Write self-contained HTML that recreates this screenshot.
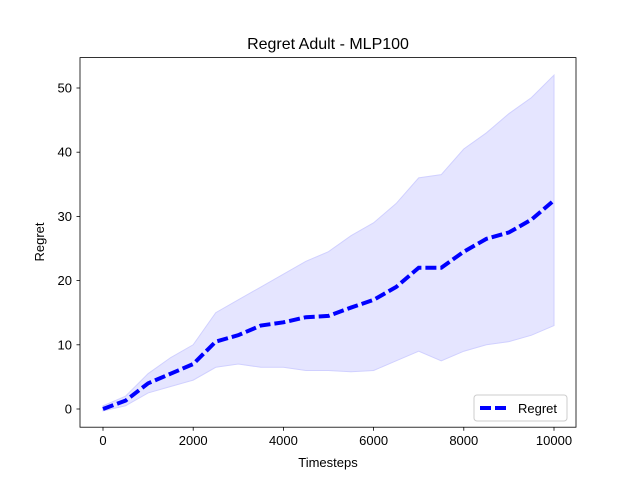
<!DOCTYPE html>
<html><head><meta charset="utf-8"><style>
body{margin:0;background:#fff}
svg text{font-family:"Liberation Sans","DejaVu Sans",sans-serif;fill:#000}
</style></head><body>
<svg id="c" width="640" height="480" xmlns="http://www.w3.org/2000/svg">
<rect width="640" height="480" fill="#fff"/>
<g id="plot"></g>
<rect x="80" y="57.6" width="496" height="369.6" fill="none" stroke="#000" stroke-width="0.8"/>
<g id="axes"></g>
<text x="328" y="49" font-size="16" text-anchor="middle">Regret Adult - MLP100</text>
<text x="328" y="467" font-size="13" text-anchor="middle">Timesteps</text>
<text x="0" y="0" font-size="13" text-anchor="middle" transform="translate(44,242) rotate(-90)">Regret</text>
<g>
<rect x="474" y="395" width="93" height="26" rx="3" fill="#fff" fill-opacity="0.8" stroke="#ccc" stroke-width="1"/>
<line x1="480" y1="408" x2="508" y2="408" stroke="#0000ff" stroke-width="4" stroke-dasharray="11,4"/>
<text x="518" y="413" font-size="13">Regret</text>
</g>
</svg>
<script>
const xs=[0,500,1000,1500,2000,2500,3000,3500,4000,4500,5000,5500,6000,6500,7000,7500,8000,8500,9000,9500,10000];
const meanVals=[0,1.3,4,5.5,7,10.5,11.5,13,13.5,14.3,14.5,15.8,17,19,22,22,24.5,26.5,27.5,29.5,32.5];
const upperVals=[0.5,2,5.5,8,10,15,17,19,21,23,24.5,27,29,32,36,36.5,40.5,43,46,48.5,52];
const lowerVals=[-0.3,0.5,2.5,3.5,4.5,6.5,7,6.5,6.5,6,6,5.8,6,7.5,9,7.5,9,10,10.5,11.5,13];
const xTicks=[0,2000,4000,6000,8000,10000];
const yTicks=[0,10,20,30,40,50];
const X=v=>103+v*451/10000, Y=v=>409-v*6.42;
const NS="http://www.w3.org/2000/svg";
const plot=document.getElementById('plot'), axes=document.getElementById('axes');
let d='M'+xs.map((x,i)=>X(x)+','+Y(upperVals[i])).join('L');
for(let i=xs.length-1;i>=0;i--) d+='L'+X(xs[i])+','+Y(lowerVals[i]);
d+='Z';
const band=document.createElementNS(NS,'path');
band.setAttribute('d',d);band.setAttribute('fill','#e5e5ff');band.setAttribute('stroke','#d0d0ff');


plot.appendChild(band);
const line=document.createElementNS(NS,'polyline');
line.setAttribute('points',xs.map((x,i)=>X(x)+','+Y(meanVals[i])).join(' '));
line.setAttribute('fill','none');line.setAttribute('stroke','#0000ff');line.setAttribute('stroke-width','4');line.setAttribute('stroke-dasharray','11,4');


plot.appendChild(line);
xTicks.forEach(t=>{
 const g=document.createElementNS(NS,'g');
 
 
 g.innerHTML=`<line x1="${X(t)}" x2="${X(t)}" y1="427.2" y2="430.7" stroke="#000" stroke-width="0.8"/><text x="${X(t)}" y="445" font-size="13" text-anchor="middle">${t}</text>`;
 axes.appendChild(g);
});
yTicks.forEach(t=>{
 const g=document.createElementNS(NS,'g');
 
 
 g.innerHTML=`<line x1="76.5" x2="80" y1="${Y(t)}" y2="${Y(t)}" stroke="#000" stroke-width="0.8"/><text x="72" y="${Y(t)+4.5}" font-size="13" text-anchor="end">${t}</text>`;
 axes.appendChild(g);
});
</script>
</body></html>
